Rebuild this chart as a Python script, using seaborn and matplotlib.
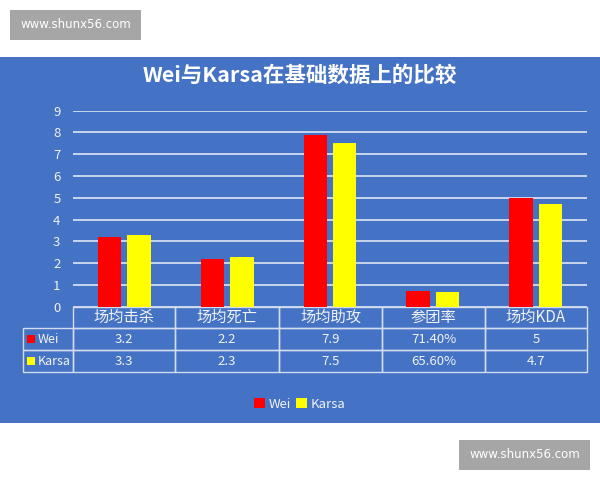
import pandas as pd
import seaborn as sns
from matplotlib import pyplot as plt
from matplotlib.patches import Rectangle

categories = ['场均击杀', '场均死亡', '场均助攻', '参团率', '场均KDA']
wei = [3.2, 2.2, 7.9, 0.714, 5]
karsa = [3.3, 2.3, 7.5, 0.656, 4.7]
players = ['Wei', 'Karsa']
title = 'Wei与Karsa在基础数据上的比较'
watermark = 'www.shunx56.com'

BLUE = '#4472C4'
LINE = '#D3DDF0'
TXT = '#F2F2F2'
colors = ['#FF0000', '#FFFF00']


def fmt(cat, v):
    # 参团率按百分比显示
    if cat == '参团率':
        return f'{v * 100:.2f}%'
    return f'{v:g}'


df = pd.DataFrame({
    'cat': categories * 2,
    'value': wei + karsa,
    'player': ['Wei'] * len(wei) + ['Karsa'] * len(karsa),
})

sns.set_theme(style='white')
plt.rcParams['font.family'] = ['Noto Sans CJK SC', 'DejaVu Sans']

W, H = 600, 480
fig = plt.figure(figsize=(6, 4.8), dpi=100)
fig.patch.set_facecolor('white')

# blue panel (drawn below the axes)
fig.patches.append(Rectangle((0, 1 - 422.7 / H), 1, (422.7 - 56.7) / H,
                             transform=fig.transFigure, facecolor=BLUE,
                             edgecolor='none', zorder=-2))

# watermark boxes
for (x0, y0, x1, y1) in [(10, 10, 141, 40), (459, 440, 590, 470)]:
    fig.patches.append(Rectangle((x0 / W, 1 - y1 / H), (x1 - x0) / W, (y1 - y0) / H,
                                 transform=fig.transFigure, facecolor='#A6A6A6',
                                 edgecolor='none', zorder=-1))
    fig.text((x0 + x1) / 2 / W, 1 - (y0 + y1) / 2 / H, watermark, color='white',
             fontsize=8.5, ha='center', va='center', family='DejaVu Sans')

fig.text(0.5, 1 - 75 / H, title, color='white', fontsize=15.5, fontweight='bold',
         ha='center', va='center')

ax_l, ax_r, ax_top, ax_bot = 73, 587, 110.7, 306.7
ax = fig.add_axes([ax_l / W, 1 - ax_bot / H, (ax_r - ax_l) / W, (ax_bot - ax_top) / H])
ax.set_facecolor('none')

sns.barplot(data=df, x='cat', y='value', hue='player', palette=colors,
            saturation=1, width=0.57, gap=0.2, linewidth=0, ax=ax,
            legend=False, zorder=3)

ax.set_ylim(0, 9)
ax.set_xlim(-0.5, len(categories) - 0.5)
ax.set_yticks(range(0, 10))
ax.yaxis.grid(True, color=LINE, linewidth=1.3, zorder=0)
ax.set_axisbelow(True)
ax.tick_params(axis='y', colors=TXT, labelsize=9.5, length=0, pad=9)
ax.set_xticks([])
ax.set_xlabel('')
ax.set_ylabel('')
for s in ax.spines.values():
    s.set_visible(False)

# data table under the plot
ax_w = ax_r - ax_l
ax_h = ax_bot - ax_top
lab_w = 50
tab_h = 372 - ax_bot
cell_text = [[p] + [fmt(c, v) for c, v in zip(categories, vals)]
             for p, vals in zip(players, [wei, karsa])]
col_w = [lab_w, 102, 104, 103, 103, 102]
tab = ax.table(cellText=cell_text, colLabels=[''] + categories,
               colWidths=[w / sum(col_w) for w in col_w], cellLoc='center',
               bbox=[-lab_w / ax_w, -tab_h / ax_h, (ax_w + lab_w) / ax_w, tab_h / ax_h])
tab.auto_set_font_size(False)
for (r, c), cell in tab.get_celld().items():
    cell.set_facecolor('none')
    cell.set_edgecolor(LINE)
    cell.set_linewidth(1)
    cell.get_text().set_color(TXT)
    cell.get_text().set_fontsize(11 if r == 0 else 9.5)
    if r == 0 and c == 0:
        cell.set_visible(False)
    if r > 0 and c == 0:
        cell.get_text().set_ha('left')
        cell.get_text().set_fontsize(9)
        cell.PAD = 0.3

row_h = tab_h / 3
for i, col in enumerate(colors):
    cy = ax_bot + row_h * (i + 1.5)
    ax.add_patch(Rectangle(((27 - ax_l) / ax_w, (ax_bot - cy - 4) / ax_h),
                           8 / ax_w, 8 / ax_h, transform=ax.transAxes,
                           facecolor=col, edgecolor='none', clip_on=False))

handles = [Rectangle((0, 0), 1, 1, facecolor=c, edgecolor='none') for c in colors]
fig.legend(handles, players, loc='center', bbox_to_anchor=(300 / W, 1 - 404 / H),
           ncol=2, frameon=False, labelcolor=TXT, fontsize=9.5,
           handlelength=0.8, handleheight=0.8, handletextpad=0.3, columnspacing=0.4)

fig.savefig('out.png', dpi=100)
